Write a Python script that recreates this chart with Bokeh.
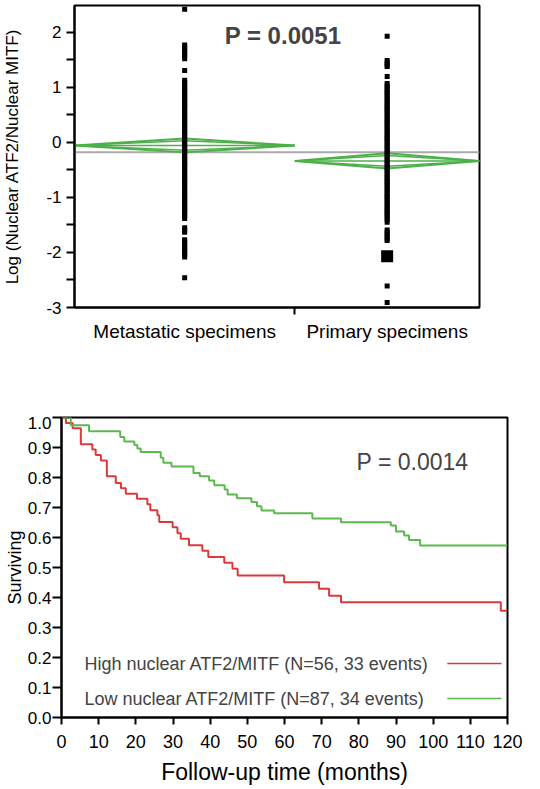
from bokeh.plotting import figure
from bokeh.models import FixedTicker, Label, Range1d, NumeralTickFormatter
from bokeh.embed import file_html
from bokeh.resources import INLINE

FONT = "Liberation Sans"

# ---------------- top panel data ----------------
groups = ["Metastatic specimens", "Primary specimens"]
group_share = [0.544, 0.456]          # relative width of each group on the x axis
metastatic_vals = [2.42, 1.77, 1.73, 1.69, 1.65, 1.61, 1.57, 1.52, 1.31,
                   1.13, 1.09, 1.05, 1.01, 0.97, 0.94, 0.90, 0.86, 0.82, 0.78, 0.74, 0.70, 0.67,
                   0.63, 0.59, 0.55, 0.51, 0.47, 0.43, 0.40, 0.36, 0.32, 0.28, 0.24, 0.20, 0.16,
                   0.13, 0.09, 0.05, 0.01, -0.03, -0.07, -0.11, -0.14, -0.18, -0.22, -0.26, -0.30,
                   -0.34, -0.38, -0.41, -0.45, -0.49, -0.53, -0.57, -0.61, -0.65, -0.68, -0.72,
                   -0.76, -0.80, -0.84, -0.88, -0.92, -0.95, -0.99, -1.03, -1.07, -1.11, -1.15,
                   -1.19, -1.22, -1.26, -1.30, -1.34, -1.38,
                   -1.55, -1.59, -1.63,
                   -1.77, -1.81, -1.85, -1.89, -1.93, -1.97, -2.01, -2.04, -2.08,
                   -2.46]
primary_vals = [1.93, 1.49, 1.45, 1.41, 1.38, 1.20,
                1.07, 1.03, 0.99, 0.95, 0.91, 0.88, 0.84, 0.80, 0.76, 0.72, 0.68, 0.64, 0.61,
                0.57, 0.53, 0.49, 0.45, 0.41, 0.37, 0.34, 0.30, 0.26, 0.22, 0.18, 0.14, 0.10,
                0.07, 0.03, -0.01, -0.05, -0.09, -0.13, -0.17, -0.20, -0.24, -0.28, -0.32, -0.36,
                -0.40, -0.44, -0.47, -0.51, -0.55, -0.59, -0.63, -0.67, -0.71, -0.74, -0.78,
                -0.82, -0.86, -0.90, -0.94, -0.98, -1.01, -1.05, -1.09, -1.13, -1.17, -1.21,
                -1.25, -1.28, -1.32, -1.36, -1.40, -1.45,
                -1.59, -1.63, -1.67, -1.71, -1.75, -1.78,
                -2.61, -2.91]
primary_cluster = [-2.07]            # several coincident observations
group_means = [-0.055, -0.335]
group_ci = [0.125, 0.137]
grand_mean = -0.18
top_y_ticks = [-3, -2, -1, 0, 1, 2]
top_y_minor = [-2.5, -1.5, -0.5, 0.5, 1.5]
top_y_title = "Log (Nuclear ATF2/Nuclear MITF)"
top_p_text = "P = 0.0051"

# ---------------- bottom panel data ----------------
high_t = [0, 1.2, 3.0, 5.2, 8.3, 9.2, 10.6, 12.2, 14.6, 16.0, 17.3, 20.3, 23.1, 23.9, 25.8,
          26.3, 29.9, 31.2, 32.1, 34.3, 37.9, 39.5, 43.8, 46.0, 47.4, 59.9, 69.3, 72.0, 75.2,
          118.2, 120]
high_s = [1.000, 0.982, 0.964, 0.911, 0.893, 0.875, 0.857, 0.804, 0.782, 0.764, 0.746, 0.729,
          0.711, 0.691, 0.674, 0.652, 0.634, 0.614, 0.596, 0.574, 0.556, 0.535, 0.516, 0.496,
          0.473, 0.451, 0.429, 0.406, 0.384, 0.356, 0.356]
low_t = [0, 2.5, 7.4, 15.8, 16.9, 19.6, 20.4, 21.3, 26.7, 27.4, 29.6, 35.5, 37.2, 39.7, 41.1,
         43.9, 44.7, 47.2, 51.1, 52.6, 53.8, 57.2, 67.5, 75.2, 88.6, 90.0, 92.2, 93.5, 96.5, 120]
low_s = [1.000, 0.974, 0.954, 0.935, 0.920, 0.908, 0.897, 0.885, 0.866, 0.849, 0.837, 0.815,
         0.804, 0.790, 0.774, 0.760, 0.743, 0.731, 0.718, 0.704, 0.690, 0.681, 0.663, 0.651,
         0.640, 0.620, 0.607, 0.592, 0.573, 0.573]
legend_labels = ["High nuclear ATF2/MITF (N=56, 33 events)",
                 "Low nuclear ATF2/MITF (N=87, 34 events)"]
x_ticks = list(range(0, 121, 10))
y_ticks = [0.0, 0.1, 0.2, 0.3, 0.4, 0.5, 0.6, 0.7, 0.8, 0.9, 1.0]
bottom_y_title = "Surviving"
bottom_x_title = "Follow-up time (months)"
bottom_p_text = "P = 0.0014"

RED = "#d93a3a"
GREEN = "#5cb84f"
DIAMOND = "#4db04a"

# ================= top figure =================
p1 = figure(width=505, height=416, x_range=Range1d(0, 1), y_range=Range1d(-3, 2.49),
            output_backend="svg", toolbar_location=None,
            min_border_left=71, min_border_right=26, min_border_top=5, min_border_bottom=109)
p1.grid.visible = False
p1.outline_line_color = "black"
p1.outline_line_width = 2
p1.border_fill_color = "white"

edges = [0.0]
for s in group_share:
    edges.append(edges[-1] + s)
centers = [(edges[i] + edges[i + 1]) / 2 for i in range(len(groups))]

p1.line([edges[0], edges[-1]], [grand_mean, grand_mean], line_color="#aaaaaa", line_width=2)

for i in range(len(groups)):
    x0, x1, xc = edges[i], edges[i + 1], centers[i]
    m, ci = group_means[i], group_ci[i]
    p1.line([x0, xc, x1, xc, x0], [m, m + ci, m, m - ci, m], line_color=DIAMOND, line_width=2)
    ov = ci * 0.707
    p1.line([x0, xc, x1], [m, m + ov, m], line_color=DIAMOND, line_width=1.5)
    p1.line([x0, xc, x1], [m, m - ov, m], line_color=DIAMOND, line_width=1.5)
    p1.line([x0, x1], [m, m], line_color=DIAMOND, line_width=1.5)

p1.scatter([centers[0]] * len(metastatic_vals), metastatic_vals, marker="square", size=5,
           fill_color="black", line_color="black", line_width=0)
p1.scatter([centers[1]] * len(primary_vals), primary_vals, marker="square", size=5,
           fill_color="black", line_color="black", line_width=0)
p1.scatter([centers[1]] * len(primary_cluster), primary_cluster, marker="square", size=12,
           fill_color="black", line_color="black", line_width=0)

p1.add_layout(Label(x=0.515, y=1.95, text=top_p_text, text_font=FONT, text_font_size="24px",
                    text_font_style="bold", text_align="center", text_baseline="middle"))

xa = p1.xaxis[0]
xa.ticker = FixedTicker(ticks=centers, minor_ticks=[edges[1]])
xa.major_label_overrides = {c: g for c, g in zip(centers, groups)}
xa.major_tick_out = 0
xa.major_tick_in = 0
xa.minor_tick_out = 7
xa.minor_tick_in = 0
xa.minor_tick_line_color = "black"
xa.minor_tick_line_width = 2
xa.axis_line_width = 2
xa.major_label_text_font = FONT
xa.major_label_text_font_size = "19px"
xa.major_label_text_color = "black"
xa.major_label_standoff = 6

ya = p1.yaxis[0]
ya.ticker = FixedTicker(ticks=top_y_ticks, minor_ticks=top_y_minor)
ya.major_label_overrides = {t: str(t) for t in top_y_ticks}
ya.major_tick_out = 8
ya.major_tick_in = 0
ya.minor_tick_out = 8
ya.minor_tick_in = 0
ya.major_tick_line_width = 2
ya.minor_tick_line_width = 2
ya.minor_tick_line_color = "black"
ya.axis_line_width = 2
ya.major_label_text_font = FONT
ya.major_label_text_font_size = "17px"
ya.major_label_text_color = "black"
ya.major_label_standoff = 5
ya.axis_label = top_y_title
ya.axis_label_text_font = FONT
ya.axis_label_text_font_size = "17px"
ya.axis_label_text_font_style = "normal"
ya.axis_label_text_color = "black"
ya.axis_label_standoff = 21

# ================= bottom figure =================
p2 = figure(width=530, height=373, x_range=Range1d(0, 120), y_range=Range1d(0, 1.0),
            output_backend="svg", toolbar_location=None,
            min_border_left=61, min_border_right=23, min_border_top=1, min_border_bottom=72)
p2.grid.visible = False
p2.outline_line_color = "black"
p2.outline_line_width = 2
p2.border_fill_color = "white"

p2.step(high_t, high_s, mode="after", line_color=RED, line_width=2)
p2.step(low_t, low_s, mode="after", line_color=GREEN, line_width=2)

leg_y = [0.18, 0.063]
leg_colors = [RED, GREEN]
for lab, yy, col in zip(legend_labels, leg_y, leg_colors):
    p2.add_layout(Label(x=6.2, y=yy, text=lab, text_font=FONT, text_font_size="18px",
                        text_align="left", text_baseline="middle"))
    p2.line([103.8, 118.4], [yy, yy], line_color=col, line_width=1.5)

p2.add_layout(Label(x=79.4, y=0.853, text=bottom_p_text, text_font=FONT,
                    text_font_size="23px", text_align="left", text_baseline="middle"))

xb = p2.xaxis[0]
xb.ticker = FixedTicker(ticks=x_ticks, minor_ticks=[])
xb.major_tick_out = 7
xb.major_tick_in = 0
xb.major_tick_line_width = 2
xb.axis_line_width = 2
xb.major_label_text_font = FONT
xb.major_label_text_font_size = "18px"
xb.major_label_text_color = "black"
xb.major_label_standoff = 10
xb.axis_label = bottom_x_title
xb.axis_label_text_font = FONT
xb.axis_label_text_font_size = "23px"
xb.axis_label_text_font_style = "normal"
xb.axis_label_text_color = "black"
xb.axis_label_standoff = 8

yb = p2.yaxis[0]
yb.ticker = FixedTicker(ticks=y_ticks, minor_ticks=[])
yb.formatter = NumeralTickFormatter(format="0.0")
yb.major_tick_out = 9
yb.major_tick_in = 0
yb.major_tick_line_width = 2
yb.axis_line_width = 2
yb.major_label_text_font = FONT
yb.major_label_text_font_size = "17px"
yb.major_label_text_color = "black"
yb.major_label_standoff = 1
yb.axis_label = bottom_y_title
yb.axis_label_text_font = FONT
yb.axis_label_text_font_size = "18px"
yb.axis_label_text_font_style = "normal"
yb.axis_label_text_color = "black"
yb.axis_label_standoff = 0

open("out.html", "w").write(file_html([p1, p2], INLINE))
